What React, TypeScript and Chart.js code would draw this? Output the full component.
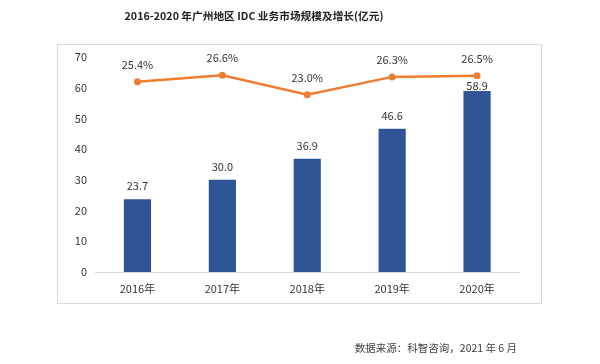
import React, { useEffect, useRef } from 'react';
import { Chart, registerables } from 'chart.js';

Chart.register(...registerables);

const categories = ['2016年', '2017年', '2018年', '2019年', '2020年'];
const marketSize = [23.7, 30.0, 36.9, 46.6, 58.9];
const growthRate = [25.4, 26.6, 23.0, 26.3, 26.5];
const yMin = 0;
const yMax = 70;
const yStep = 10;
const titleText = '2016-2020 年广州地区 IDC 业务市场规模及增长(亿元)';
const sourceText = '数据来源：科智咨询，2021 年 6 月';

const FONT = '"Noto Sans CJK SC", "Noto Sans", sans-serif';
const BAR_COLOR = '#2F5597';
const LINE_COLOR = '#ED7D31';

const decorPlugin = {
  id: 'decor',
  beforeDraw(chart: any) {
    const ctx = chart.ctx;
    ctx.save();
    ctx.fillStyle = '#ffffff';
    ctx.fillRect(0, 0, chart.width, chart.height);
    ctx.strokeStyle = '#D9D9D9';
    ctx.lineWidth = 1;
    ctx.strokeRect(57.5, 44.5, 484, 259);
    ctx.restore();
  },
  afterDraw(chart: any) {
    const ctx = chart.ctx;
    ctx.save();
    ctx.textBaseline = 'middle';
    ctx.fillStyle = '#222222';
    ctx.font = `bold 10.7px ${FONT}`;
    ctx.textAlign = 'center';
    ctx.fillText(titleText, 254, 16);

    ctx.fillStyle = '#404040';
    ctx.font = `10.5px ${FONT}`;
    ctx.textAlign = 'right';
    ctx.fillText(sourceText, 517, 348);

    const barMeta = chart.getDatasetMeta(0);
    const lineMeta = chart.getDatasetMeta(1);
    ctx.font = `11px ${FONT}`;
    ctx.textAlign = 'center';
    ctx.fillStyle = '#333333';
    barMeta.data.forEach((bar: any, i: number) => {
      const pt = lineMeta.data[i];
      let y = bar.y - 13;
      if (pt && y < pt.y + 10) y = pt.y + 10;
      ctx.fillText(marketSize[i].toFixed(1), bar.x, y);
    });
    lineMeta.data.forEach((pt: any, i: number) => {
      ctx.fillText(growthRate[i].toFixed(1) + '%', pt.x, pt.y - 17);
    });
    ctx.restore();
  },
};

export default function App() {
  const ref = useRef<HTMLCanvasElement | null>(null);

  useEffect(() => {
    if (!ref.current) return;
    const chart = new Chart(ref.current, {
      type: 'bar',
      data: {
        labels: categories,
        datasets: [
          {
            type: 'bar',
            label: '市场规模',
            data: marketSize,
            backgroundColor: BAR_COLOR,
            categoryPercentage: 1,
            barPercentage: 0.32,
            yAxisID: 'y',
            order: 1,
          },
          {
            type: 'line',
            label: '增长率',
            data: growthRate,
            borderColor: LINE_COLOR,
            backgroundColor: LINE_COLOR,
            borderWidth: 2.5,
            pointRadius: 3.5,
            pointBackgroundColor: LINE_COLOR,
            pointBorderWidth: 0,
            tension: 0,
            yAxisID: 'y2',
            order: 0,
          },
        ] as any,
      },
      options: {
        responsive: false,
        animation: false,
        layout: { padding: { left: 57, right: 80.5, top: 57, bottom: 62 } },
        plugins: {
          legend: { display: false },
          tooltip: { enabled: false },
          title: { display: false },
        },
        scales: {
          x: {
            grid: { display: false, drawTicks: false },
            border: { display: true, color: '#D9D9D9', width: 1 },
            ticks: { color: '#333333', font: { family: FONT, size: 11 }, padding: 10 },
            afterFit: (s: any) => { s.height = 30; },
          },
          y: {
            min: yMin,
            max: yMax,
            grid: { display: false, drawTicks: false },
            border: { display: false },
            ticks: { stepSize: yStep, color: '#333333', font: { family: FONT, size: 11 }, padding: 8 },
            afterFit: (s: any) => { s.width = 38; },
          },
          y2: {
            display: false,
            min: -10,
            max: 30,
          },
        },
      },
      plugins: [decorPlugin],
    } as any);
    return () => chart.destroy();
  }, []);

  return (
    <div style={{ position: 'absolute', left: 0, top: 0, width: 600, height: 364, background: '#fff' }}>
      <canvas ref={ref} width={600} height={364} />
    </div>
  );
}
